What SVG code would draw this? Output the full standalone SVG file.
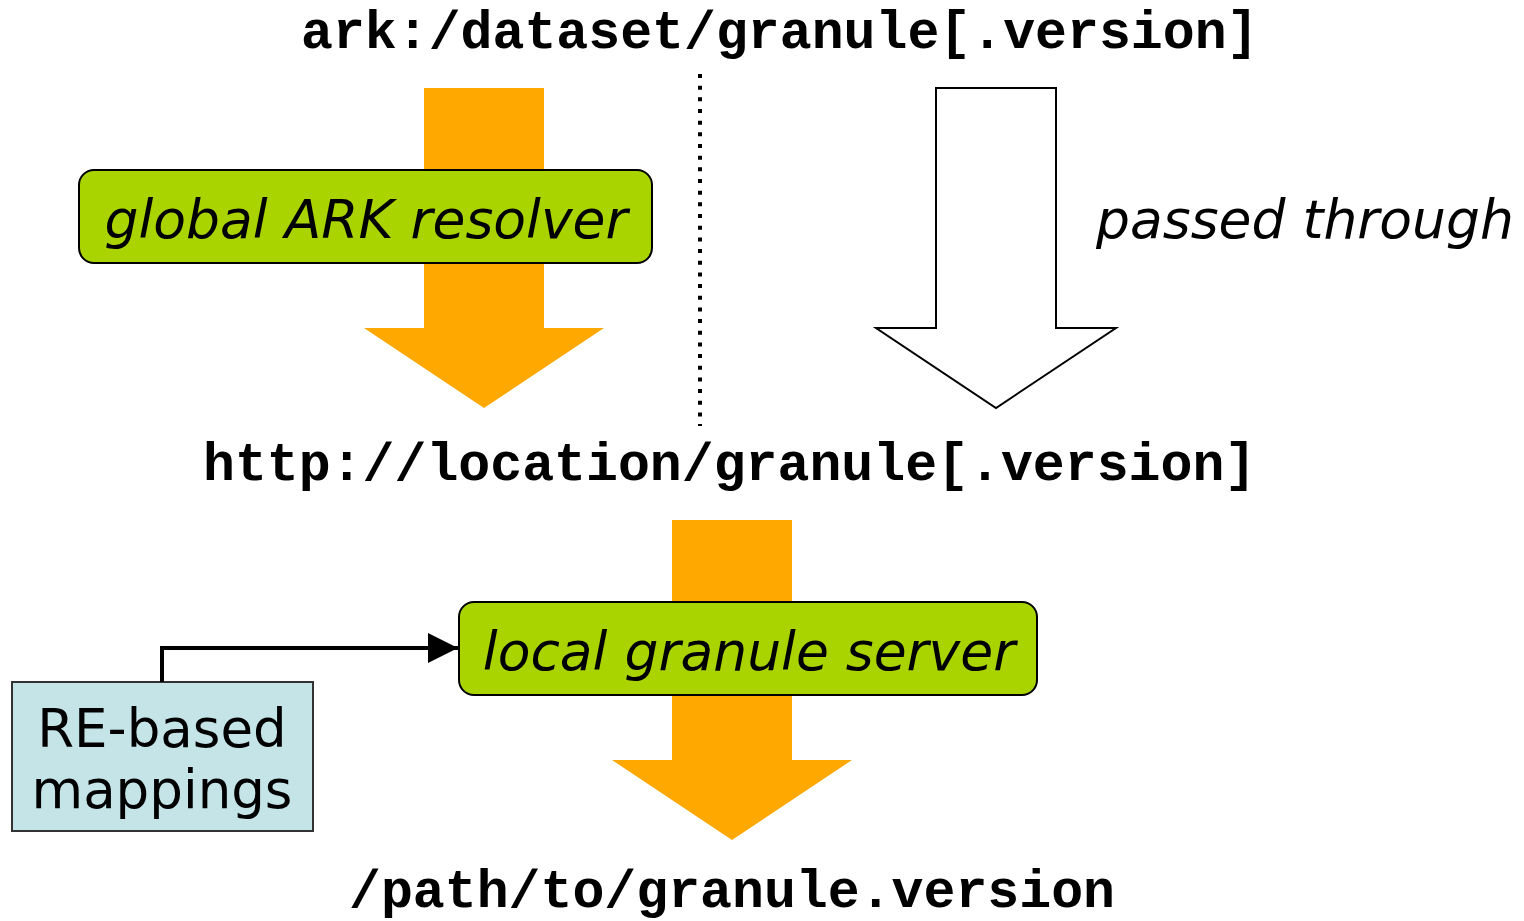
<svg xmlns="http://www.w3.org/2000/svg" width="1524" height="921" viewBox="0 0 1524 921">
<style>
.mono{font-family:"Liberation Mono","Courier New",monospace;font-weight:bold;font-size:53.2px;fill:#000}
.lbl{font-family:"DejaVu Sans",Verdana,sans-serif;font-size:53.5px;fill:#000}
.it{font-style:italic}
.orange{fill:#FFA800;stroke:none}
.green{fill:#AAD400;stroke:#000;stroke-width:2}
</style>
<defs>
<marker id="ah" markerWidth="30" markerHeight="30" refX="30" refY="15" orient="auto" markerUnits="userSpaceOnUse">
<path d="M0,0 L30,15 L0,30 Z" fill="#000"/>
</marker>
</defs>
<rect width="1524" height="921" fill="#fff"/>

<g id="text-ark"><text class="mono" x="301" y="48">ark:/dataset/granule[.version]</text></g>
<g id="text-http"><text class="mono" x="203" y="480">http://location/granule[.version]</text></g>
<g id="text-path"><text class="mono" x="349" y="907">/path/to/granule.version</text></g>

<g id="divider"><line x1="700" y1="74" x2="700" y2="426" stroke="#000" stroke-width="4" stroke-dasharray="4 7.67"/></g>

<g id="arrow-global"><path class="orange" d="M424,88 H544 V328 H604 L484,408 L364,328 H424 Z"/></g>
<g id="node-global">
<rect class="green" x="79" y="170" width="573" height="93" rx="15"/>
<text class="lbl it" x="366" y="238" text-anchor="middle">global ARK resolver</text>
</g>

<g id="arrow-passed"><path d="M936,88 H1056 V328 H1116 L996,408 L876,328 H936 Z" fill="#fff" stroke="#000" stroke-width="2"/></g>
<g id="label-passed"><text class="lbl it" x="1305" y="238" text-anchor="middle">passed through</text></g>

<g id="arrow-local"><path class="orange" d="M672,520 H792 V760 H852 L732,840 L612,760 H672 Z"/></g>
<g id="node-local">
<rect class="green" x="459" y="602" width="578" height="93" rx="15"/>
<text class="lbl it" x="749" y="670" text-anchor="middle">local granule server</text>
</g>

<g id="node-mappings">
<rect x="12" y="682" width="301" height="149" fill="#C4E4E8" stroke="#333" stroke-width="2"/>
<text class="lbl" x="162" y="747" text-anchor="middle" style="font-size:53px">RE-based</text>
<text class="lbl" x="162" y="808" text-anchor="middle" style="font-size:53px">mappings</text>
</g>

<g id="connectors">
<path d="M162,682 V648 H458" fill="none" stroke="#000" stroke-width="4" marker-end="url(#ah)"/>
</g>
</svg>
